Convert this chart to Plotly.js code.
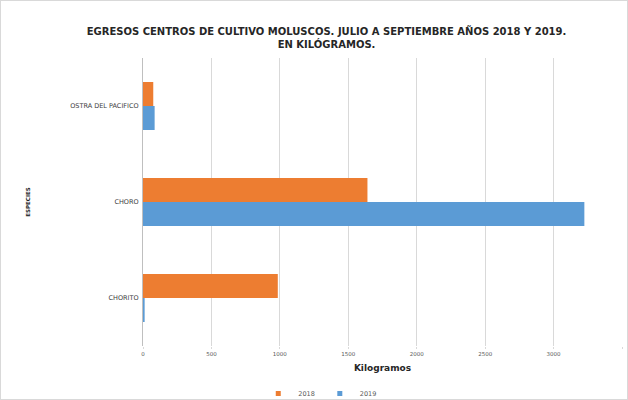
<!DOCTYPE html>
<html>
<head>
<meta charset="utf-8">
<script src="https://cdn.plot.ly/plotly-3.0.1.min.js"></script>
<style>
html,body{margin:0;padding:0;background:#fff;}
#chart{width:628px;height:400px;box-sizing:border-box;border:1px solid #d9d9d9;}
</style>
</head>
<body>
<div id="chart"></div>
<script>
const categories = ["CHORITO", "CHORO", "OSTRA DEL PACIFICO"];
const values2018 = [985, 1640, 75];
const values2019 = [12, 3225, 85];
const tickVals = [0, 500, 1000, 1500, 2000, 2500, 3000, 3500];
const seriesNames = ["2018", "2019"];
const seriesColors = ["#ED7D31", "#5B9BD5"];

const data = [
  {type:'bar', orientation:'h', name:seriesNames[1], y:categories, x:values2019,
   marker:{color:seriesColors[1]}, showlegend:false},
  {type:'bar', orientation:'h', name:seriesNames[0], y:categories, x:values2018,
   marker:{color:seriesColors[0]}, showlegend:false},
  // legend entries with small square keys
  {type:'scatter', mode:'markers', name:seriesNames[0], x:[null], y:[null],
   marker:{symbol:'square', size:5, color:seriesColors[0]}, showlegend:true},
  {type:'scatter', mode:'markers', name:seriesNames[1], x:[null], y:[null],
   marker:{symbol:'square', size:5, color:seriesColors[1]}, showlegend:true}
];

const layout = {
  width:626, height:398,
  margin:{l:142, r:5, t:57, b:53},
  paper_bgcolor:'#fff', plot_bgcolor:'#fff',
  font:{family:'"DejaVu Sans", sans-serif', color:'#404040'},
  title:{text:'EGRESOS CENTROS DE CULTIVO MOLUSCOS. JULIO A SEPTIEMBRE AÑOS 2018 Y 2019.<br>EN KILÓGRAMOS.',
         font:{size:10, color:'#262626', family:'"DejaVu Sans", sans-serif', weight:700},
         x:0.52, xanchor:'center', y:0.915, yanchor:'middle'},
  barmode:'group', bargap:0.5, bargroupgap:0,
  xaxis:{range:[0,3500], tickvals:tickVals, ticktext:tickVals.map(String),
         showgrid:true, gridcolor:'#d9d9d9', gridwidth:1, zeroline:false,
         ticks:'outside', ticklen:2, tickcolor:'#d9d9d9',
         tickfont:{size:5.5, color:'#595959'},
         title:{text:'Kilogramos', font:{size:9, color:'#262626', weight:700}, standoff:9},
         fixedrange:true, automargin:false},
  yaxis:{showgrid:false, zeroline:false, showline:true, linecolor:'#bfbfbf', linewidth:1,
         ticks:'', tickfont:{size:6.5, color:'#404040'}, ticksuffix:' ',
         title:{text:'ESPECIES', font:{size:5.5, color:'#262626', weight:700}, standoff:39},
         fixedrange:true, automargin:false},
  showlegend:true,
  legend:{orientation:'h', xref:'container', yref:'container', x:0.51, xanchor:'center',
          y:0.014, yanchor:'middle', font:{size:6.5, color:'#595959'},
          itemwidth:30, tracegroupgap:0}
};

Plotly.newPlot('chart', data, layout, {displayModeBar:false, staticPlot:true});
</script>
</body>
</html>
